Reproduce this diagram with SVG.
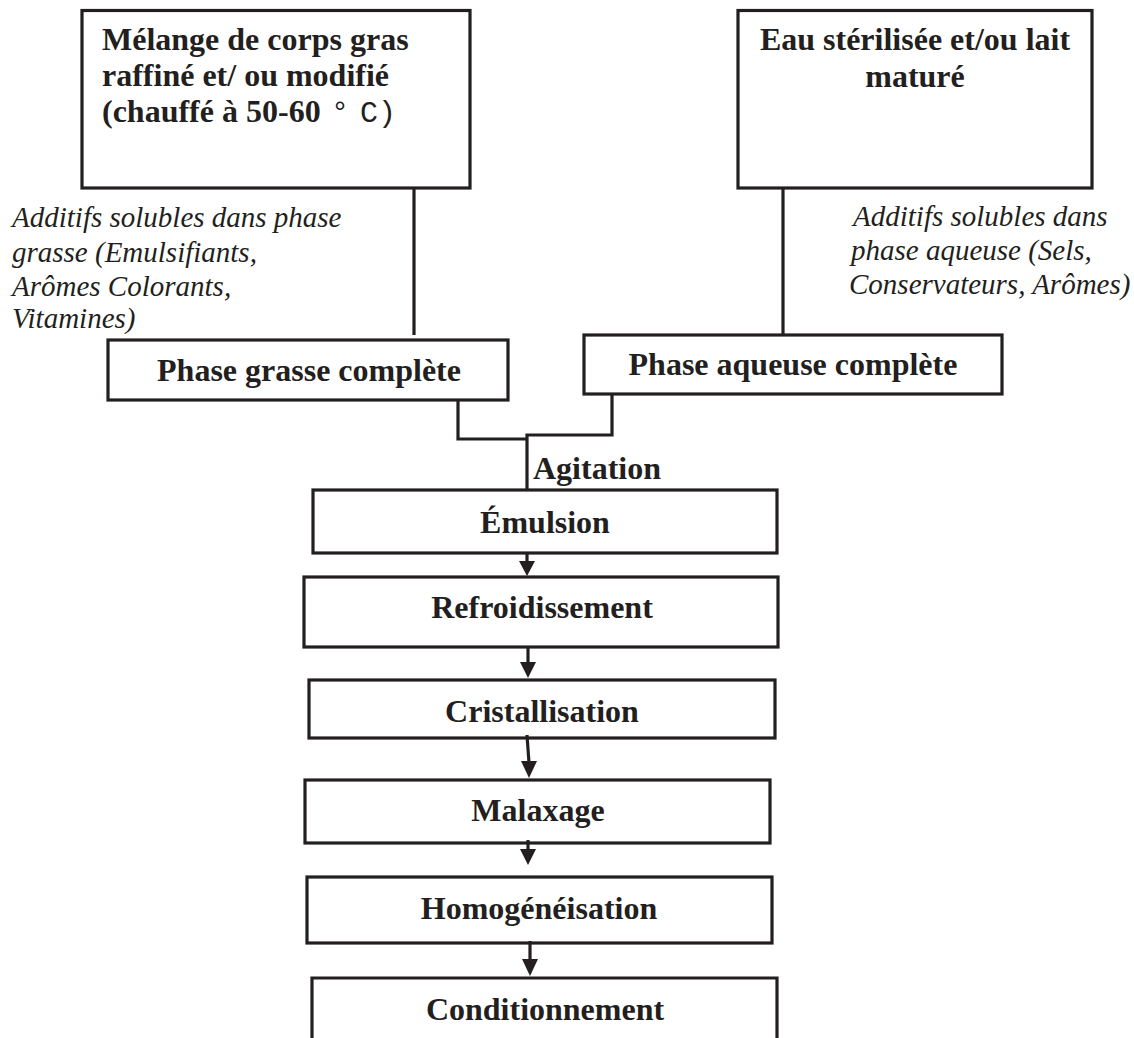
<svg xmlns="http://www.w3.org/2000/svg" width="1134" height="1038" viewBox="0 0 1134 1038">
<defs>
<style>
.box{fill:#fff;stroke:#231f20;stroke-width:3.2}
.t{font-family:"Liberation Serif","Times New Roman",serif;font-weight:bold;font-size:32px;fill:#231f20}
.c{text-anchor:middle}
.i{font-family:"Liberation Serif","Times New Roman",serif;font-style:italic;font-size:29px;fill:#231f20}
.ln{fill:none;stroke:#231f20;stroke-width:3.2}
.hd{fill:#231f20}
.deg{font-family:"Liberation Mono",monospace;font-weight:normal;font-size:30px}
</style>
</defs>
<rect width="1134" height="1038" fill="#fff"/>
<g id="n-melange">
<rect class="box" x="82" y="10.5" width="388" height="177.5"/>
<text class="t" x="102" y="50">Mélange de corps gras</text>
<text class="t" x="102" y="86">raffiné et/ ou modifié</text>
<text class="t" x="102" y="122">(chauffé à 50-60<tspan class="deg" x="331">°</tspan><tspan class="deg" x="360">C)</tspan></text>
</g>
<g id="n-eau">
<rect class="box" x="738" y="10.5" width="354" height="177.5"/>
<text class="t c" x="915" y="50">Eau stérilisée et/ou lait</text>
<text class="t c" x="915" y="87">maturé</text>
</g>
<g id="n-add-gras">
<text class="i" x="12" y="227">Additifs solubles dans phase</text>
<text class="i" x="12" y="262">grasse (Emulsifiants,</text>
<text class="i" x="12" y="296">Arômes Colorants,</text>
<text class="i" x="12" y="328">Vitamines)</text>
</g>
<g id="n-add-aq">
<text class="i" x="853" y="226">Additifs solubles dans</text>
<text class="i" x="851" y="260">phase aqueuse (Sels,</text>
<text class="i" x="849" y="294">Conservateurs, Arômes)</text>
</g>
<g id="n-pgrasse">
<rect class="box" x="108" y="340" width="400" height="60"/>
<text class="t c" x="309" y="381">Phase grasse complète</text>
</g>
<g id="n-paq">
<rect class="box" x="584" y="335" width="418" height="59"/>
<text class="t c" x="793" y="375">Phase aqueuse complète</text>
</g>
<g id="n-emulsion">
<rect class="box" x="313" y="490" width="464" height="63"/>
<text class="t c" x="545" y="533">Émulsion</text>
</g>
<g id="n-refroid">
<rect class="box" x="304" y="577" width="474" height="70"/>
<text class="t c" x="542" y="618">Refroidissement</text>
</g>
<g id="n-cristal">
<rect class="box" x="309" y="680" width="466" height="58"/>
<text class="t c" x="542" y="722">Cristallisation</text>
</g>
<g id="n-malaxage">
<rect class="box" x="305" y="780" width="465" height="63"/>
<text class="t c" x="538" y="821">Malaxage</text>
</g>
<g id="n-homog">
<rect class="box" x="307" y="877" width="465" height="66"/>
<text class="t c" x="539" y="919">Homogénéisation</text>
</g>
<g id="n-condi">
<path class="ln" d="M312,1040 V978 H777 V1040"/>
<text class="t c" x="545" y="1020">Conditionnement</text>
</g>
<g id="connectors">
<path class="ln" d="M414,188 V335"/>
<path class="ln" d="M783,188 V335"/>
<path class="ln" d="M458,400 V439 H527"/>
<path class="ln" d="M612,394 V435 H527 V490"/>
<text class="t" x="533" y="479">Agitation</text>
<path class="ln" d="M527,553 V563"/>
<polygon class="hd" points="519,561 535,561 527,576"/>
<path class="ln" d="M528,647 V663"/>
<polygon class="hd" points="520,662 536,662 528,678"/>
<path class="ln" d="M527,735 L529,763"/>
<polygon class="hd" points="521,761 537,761 529,778"/>
<path class="ln" d="M528,840 V850"/>
<polygon class="hd" points="520,849 536,849 528,865"/>
<path class="ln" d="M530,941 V961"/>
<polygon class="hd" points="522,959 538,959 530,976"/>
</g>
</svg>
